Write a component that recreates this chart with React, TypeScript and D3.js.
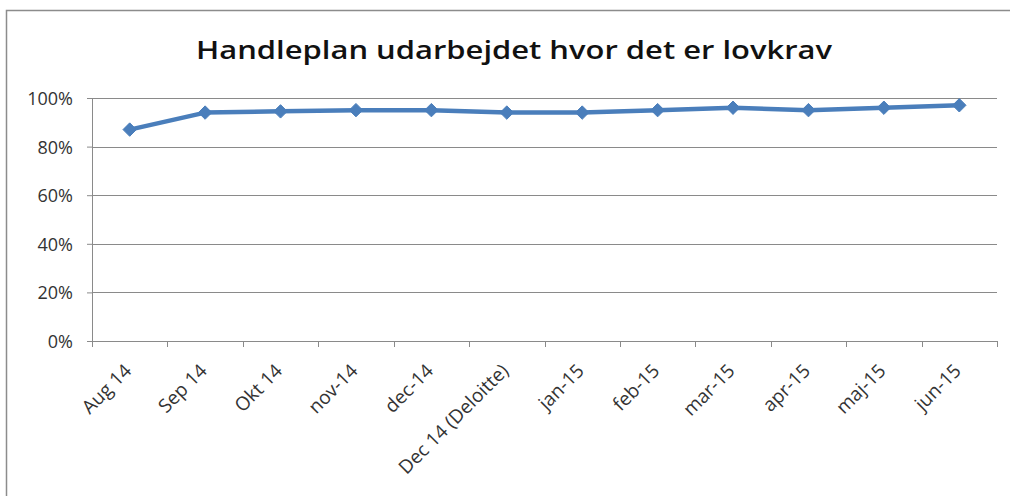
import React, { useEffect, useRef } from 'react'
import * as d3 from 'd3'

const categories = [
  'Aug 14',
  'Sep 14',
  'Okt 14',
  'nov-14',
  'dec-14',
  'Dec 14 (Deloitte)',
  'jan-15',
  'feb-15',
  'mar-15',
  'apr-15',
  'maj-15',
  'jun-15'
]
const values = [0.87, 0.94, 0.945, 0.95, 0.95, 0.94, 0.94, 0.95, 0.96, 0.95, 0.96, 0.97]
const yTicks = [0, 0.2, 0.4, 0.6, 0.8, 1]
const title = 'Handleplan udarbejdet hvor det er lovkrav'

const W = 1010
const H = 496

const useD3 = (renderChartFn: (svg: any) => void, dependencies: React.DependencyList) => {
  const ref = useRef(null)
  useEffect(() => {
    const svg = d3.select(ref.current)
    svg.selectAll('*').remove()
    renderChartFn(svg)
  }, dependencies)
  return ref
}

const DrawChart = () => {
  const margin = { top: 98, right: 13, bottom: 155, left: 92 }
  const font = 'Open Sans, sans-serif'

  const ref = useD3(
    (svg: d3.Selection<SVGSVGElement, unknown, null, undefined>) => {
      const boundedWidth = W - margin.left - margin.right
      const boundedHeight = H - margin.top - margin.bottom

      // outer chart frame (cropped at right / bottom)
      svg
        .append('rect')
        .attr('x', 6.5)
        .attr('y', 10.5)
        .attr('width', 1100)
        .attr('height', 600)
        .attr('fill', '#fff')
        .attr('stroke', '#8c8c8c')
        .attr('stroke-width', 1.5)

      svg
        .append('text')
        .attr('x', 514)
        .attr('y', 59)
        .attr('text-anchor', 'middle')
        .attr('font-family', font)
        .attr('font-weight', 600)
        .attr('font-size', 26)
        .attr('fill', '#111')
        .attr('textLength', 636)
        .attr('lengthAdjust', 'spacingAndGlyphs')
        .text(title)

      const bounds = svg.append('g').attr('transform', `translate(${margin.left},${margin.top})`)

      const xScale = d3.scaleBand().domain(categories).range([0, boundedWidth])
      const yScale = d3.scaleLinear().domain([0, 1]).range([boundedHeight, 0])

      // gridlines
      bounds
        .selectAll('.grid')
        .data(yTicks.filter(d => d > 0))
        .enter()
        .append('line')
        .attr('x1', 0)
        .attr('x2', boundedWidth)
        .attr('y1', d => Math.round(yScale(d)) + 0.5)
        .attr('y2', d => Math.round(yScale(d)) + 0.5)
        .attr('stroke', '#8a8a8a')
        .attr('stroke-width', 1)

      // y axis
      const yAxis = bounds
        .append('g')
        .call(
          d3
            .axisLeft(yScale)
            .tickValues(yTicks)
            .tickSize(5)
            .tickPadding(14)
            .tickFormat(d3.format('.0%'))
        )
      yAxis.select('.domain').attr('stroke', '#8a8a8a')
      yAxis.selectAll('.tick line').attr('stroke', '#8a8a8a')
      yAxis
        .selectAll('.tick text')
        .attr('font-family', font)
        .attr('font-size', 18)
        .attr('fill', '#333')
        .attr('dy', '0.36em')

      // x axis
      const xAxis = bounds.append('g').attr('transform', `translate(0,${boundedHeight})`)
      xAxis
        .append('line')
        .attr('x1', -5)
        .attr('x2', boundedWidth)
        .attr('y1', 0.5)
        .attr('y2', 0.5)
        .attr('stroke', '#8a8a8a')
      xAxis
        .selectAll('.xtick')
        .data(d3.range(categories.length + 1))
        .enter()
        .append('line')
        .attr('x1', i => Math.round(i * xScale.step()) + 0.5)
        .attr('x2', i => Math.round(i * xScale.step()) + 0.5)
        .attr('y1', 0)
        .attr('y2', 6)
        .attr('stroke', '#8a8a8a')
      xAxis
        .selectAll('.xlabel')
        .data(categories)
        .enter()
        .append('text')
        .attr('transform', d => `translate(${(xScale(d) ?? 0) + xScale.bandwidth() / 2 + 3},${31}) rotate(-45)`)
        .attr('text-anchor', 'end')
        .attr('font-family', font)
        .attr('font-size', 19)
        .attr('fill', '#333')
        .text(d => d)

      // series
      const xPos = (d: string) => (xScale(d) ?? 0) + xScale.bandwidth() / 2
      const line = d3
        .line<number>()
        .x((_, i) => xPos(categories[i]))
        .y(d => yScale(d))

      bounds
        .append('path')
        .datum(values)
        .attr('d', line)
        .attr('fill', 'none')
        .attr('stroke', '#4a7ebb')
        .attr('stroke-width', 4.5)
        .attr('stroke-linejoin', 'round')

      bounds
        .selectAll('.marker')
        .data(values)
        .enter()
        .append('path')
        .attr('d', d3.symbol(d3.symbolDiamond2, 115))
        .attr('transform', (d, i) => `translate(${xPos(categories[i])},${yScale(d)})`)
        .attr('fill', '#4a7ebb')
        .attr('stroke', '#4a7ebb')
        .attr('stroke-width', 1)
    },
    []
  )

  return <svg ref={ref} width={W} height={H} style={{ position: 'absolute', left: 0, top: 0, background: '#fff' }} />
}

const App = () => {
  return (
    <div>
      <DrawChart />
    </div>
  )
}

export default App
